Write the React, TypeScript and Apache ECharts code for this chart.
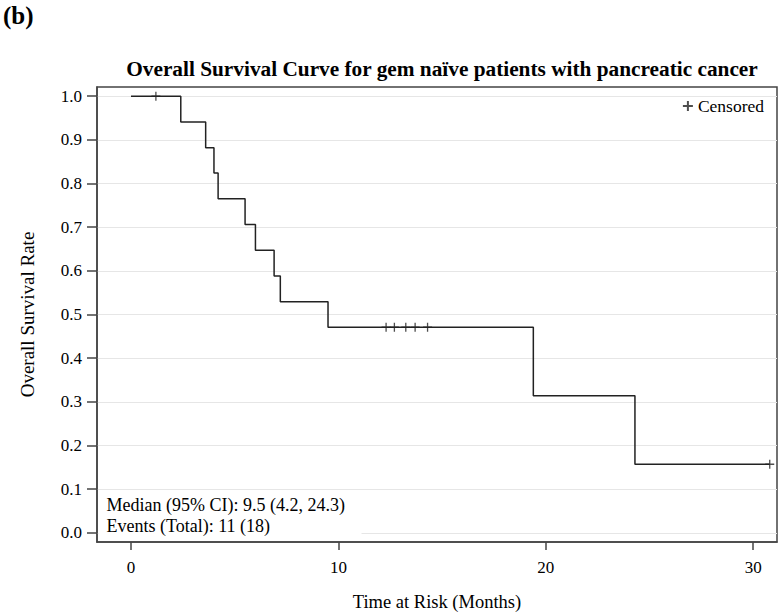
import React, { useEffect, useRef } from "react";
import * as echarts from "echarts";

// Kaplan-Meier step points (time in months, survival rate)
const stepTimes = [0, 2.4, 3.6, 4.0, 4.2, 5.5, 6.0, 6.9, 7.2, 9.5, 19.4, 24.3, 30.8];
const stepSurvival = [1.0, 0.941, 0.882, 0.824, 0.765, 0.706, 0.647, 0.588, 0.529, 0.471, 0.314, 0.157, 0.157];

// Censored observations
const censorTimes = [1.2, 12.3, 12.7, 13.25, 13.7, 14.3, 30.8];
const censorSurvival = [1.0, 0.471, 0.471, 0.471, 0.471, 0.471, 0.157];

const xTicks = [0, 10, 20, 30];
const yTicks = [0, 0.1, 0.2, 0.3, 0.4, 0.5, 0.6, 0.7, 0.8, 0.9, 1.0];

const panelLabel = "(b)";
const titleText = "Overall Survival Curve for gem naïve patients with pancreatic cancer";
const xName = "Time at Risk (Months)";
const yName = "Overall Survival Rate";
const medianText = "Median (95% CI): 9.5 (4.2, 24.3)";
const eventsText = "Events (Total): 11 (18)";

const FONT = "'Liberation Serif', 'Times New Roman', serif";

export default function App() {
  const ref = useRef<HTMLDivElement>(null);
  useEffect(() => {
    if (!ref.current) return;
    const chart = echarts.init(ref.current, undefined, { renderer: "svg" });
    const plus = "path://M0,-5 L0,5 M-5,0 L5,0";
    chart.setOption({
      animation: false,
      backgroundColor: "#fff",
      textStyle: { fontFamily: FONT },
      title: {
        text: titleText,
        left: 437,
        textAlign: "center",
        top: 53,
        textStyle: { fontFamily: FONT, fontSize: 21.3, fontWeight: "bold", color: "#000" },
      },
      grid: {
        left: 97,
        right: 4,
        top: 87,
        bottom: 71,
        outerBoundsMode: "none",
        containLabel: false,
        show: true,
        borderColor: "#444",
        borderWidth: 1.5,
        backgroundColor: "transparent",
      },
      legend: {
        data: [{ name: "Censored" }],
        right: 12,
        top: 92,
        itemWidth: 10,
        itemHeight: 10,
        itemGap: 8,
        textStyle: { fontFamily: FONT, fontSize: 17.5, color: "#000" },
      },
      xAxis: {
        type: "value",
        min: -1.64,
        max: 31.15,
        name: xName,
        nameLocation: "middle",
        nameGap: 50,
        nameTextStyle: { fontFamily: FONT, fontSize: 18.5, color: "#000" },
        axisLine: { show: true, onZero: false, lineStyle: { color: "#444", width: 1.5 } },
        axisTick: { show: true, length: 8, lineStyle: { color: "#444", width: 1.5 }, customValues: xTicks },
        axisLabel: { customValues: xTicks, fontFamily: FONT, fontSize: 17, color: "#000", margin: 17 },
        splitLine: { show: false },
      },
      yAxis: {
        type: "value",
        min: -0.021,
        max: 1.021,
        name: yName,
        nameLocation: "middle",
        nameGap: 60,
        nameTextStyle: { fontFamily: FONT, fontSize: 19, color: "#000" },
        axisLine: { show: true, onZero: false, lineStyle: { color: "#444", width: 1.5 } },
        axisTick: { show: true, length: 10, lineStyle: { color: "#444", width: 1.5 }, customValues: yTicks },
        axisLabel: {
          customValues: yTicks,
          fontFamily: FONT,
          fontSize: 17,
          color: "#000",
          margin: 15,
          formatter: (v: number) => v.toFixed(1),
        },
        splitLine: { show: true, lineStyle: { color: "#e6e6e6", width: 1.2 } },
      },
      graphic: [
        {
          type: "text",
          left: 3,
          top: 3,
          style: { text: panelLabel, font: `bold 25px ${FONT}`, fill: "#000" },
        },
        {
          type: "group",
          left: 98.5,
          top: 491,
          z: 50,
          children: [
            { type: "rect", z: 50, shape: { x: 0, y: 0, width: 263, height: 50 }, style: { fill: "#fff" } },
            { type: "text", z: 51, x: 8, y: 5, style: { text: medianText, font: `18px ${FONT}`, fill: "#000" } },
            { type: "text", z: 51, x: 8, y: 26, style: { text: eventsText, font: `18px ${FONT}`, fill: "#000" } },
          ],
        },
      ],
      series: [
        {
          type: "line",
          name: "Survival",
          step: "end",
          showSymbol: false,
          symbol: "none",
          lineStyle: { color: "#222", width: 1.5 },
          data: stepTimes.map((t, i) => [t, stepSurvival[i]]),
          z: 3,
        },
        {
          type: "scatter",
          name: "Censored",
          symbol: plus,
          symbolSize: 9,
          itemStyle: { color: "none", borderColor: "#222", borderWidth: 1.3 },
          data: censorTimes.map((t, i) => [t, censorSurvival[i]]),
          z: 4,
        },
      ],
    });
    return () => chart.dispose();
  }, []);
  return (
    <div
      ref={ref}
      style={{ position: "fixed", left: 0, top: 0, width: 781, height: 613, background: "#fff" }}
    />
  );
}
